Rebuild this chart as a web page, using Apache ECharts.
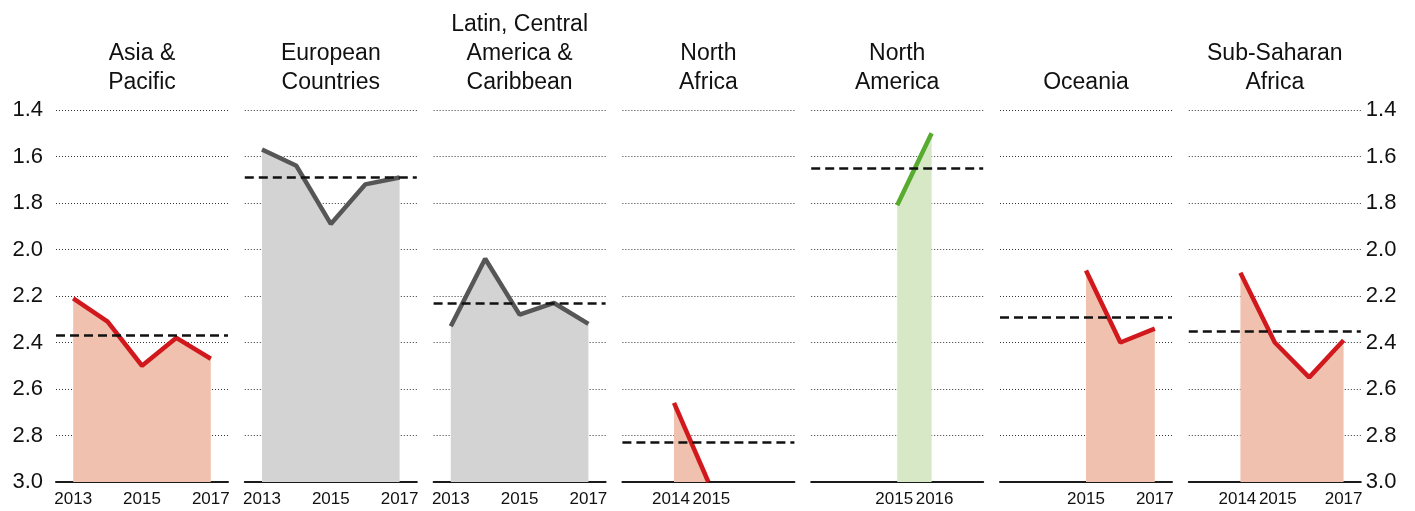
<!DOCTYPE html>
<html>
<head>
<meta charset="utf-8">
<script src="https://cdn.jsdelivr.net/npm/echarts@6/dist/echarts.min.js"></script>
<style>
  html, body { margin: 0; padding: 0; background: #fff; }
  #chart { width: 1415px; height: 511px; }
</style>
</head>
<body>
<div id="chart"></div>
<script>
// categories (years) shared by every panel
var years = ['2013', '2014', '2015', '2016', '2017'];

// panel titles
var regions = ['Asia &\nPacific', 'European\nCountries', 'Latin, Central\nAmerica &\nCaribbean',
  'North\nAfrica', 'North\nAmerica', 'Oceania', 'Sub-Saharan\nAfrica'];

// values per region (null = no data that year)
var asiaPacific   = [2.21, 2.31, 2.50, 2.38, 2.47];
var european      = [1.57, 1.64, 1.89, 1.72, 1.69];
var latinAmerica  = [2.33, 2.04, 2.28, 2.23, 2.32];
var northAfrica   = [null, 2.66, 3.00, null, null];
var northAmerica  = [null, null, 1.81, 1.50, null];
var oceania       = [null, null, 2.09, 2.40, 2.34];
var subSaharan    = [null, 2.10, 2.40, 2.55, 2.39];

// dashed average line per region
var averages = [2.37, 1.69, 2.23, 2.83, 1.65, 2.29, 2.35];

// colour group per region: r = red, g = grey, n = green
var groups = ['r', 'g', 'g', 'r', 'n', 'r', 'r'];

// x tick labels shown under each panel
var xLabels = [
  ['2013', '2015', '2017'],
  ['2013', '2015', '2017'],
  ['2013', '2015', '2017'],
  ['2014', '2015'],
  ['2015', '2016'],
  ['2015', '2017'],
  ['2014', '2015', '2017']
];

// y ticks
var yMin = 1.4, yMax = 3.0, yStep = 0.2;

var seriesData = [asiaPacific, european, latinAmerica, northAfrica, northAmerica, oceania, subSaharan];

var palette = {
  r: { line: '#d1181d', area: '#f0c1ae' },
  g: { line: '#565656', area: '#d3d3d3' },
  n: { line: '#57ab2f', area: '#d6e8c6' }
};

var font = '"Liberation Sans", Arial, sans-serif';
var panelLeft = 56, panelStep = 188.8, panelWidth = 172;
var gridTop = 110, gridBottom = 29;

var grids = [], xAxes = [], yAxes = [], series = [], titles = [];

for (let i = 0; i < regions.length; i++) {
  let left = panelLeft + i * panelStep;
  grids.push({ left: left, width: panelWidth, top: gridTop, bottom: gridBottom });

  titles.push({
    text: regions[i],
    left: left + panelWidth / 2,
    textAlign: 'center',
    bottom: 511 - 97,
    padding: 0,
    textStyle: { fontFamily: font, fontSize: 23, fontWeight: 'normal', color: '#111', lineHeight: 29 }
  });

  let shown = xLabels[i];
  xAxes.push({
    type: 'category',
    gridIndex: i,
    data: years,
    boundaryGap: true,
    axisLine: { onZero: false, lineStyle: { color: '#1a1a1a', width: 2 } },
    axisTick: { show: false },
    axisLabel: {
      interval: 0,
      hideOverlap: false,
      // nudge neighbouring labels apart so they don't touch
      formatter: function (val, idx) {
        if (shown.indexOf(val) < 0) return '';
        let prev = idx > 0 && shown.indexOf(years[idx - 1]) >= 0;
        let next = idx < years.length - 1 && shown.indexOf(years[idx + 1]) >= 0;
        if (prev) return '{r|' + val + '}';
        if (next) return '{l|' + val + '}';
        return val;
      },
      rich: {
        l: { fontFamily: font, fontSize: 17, color: '#111', padding: [0, 6, 0, 0] },
        r: { fontFamily: font, fontSize: 17, color: '#111', padding: [0, 0, 0, 6] }
      },
      fontFamily: font, fontSize: 17, color: '#111', margin: 9
    },
    splitLine: { show: false }
  });

  yAxes.push({
    type: 'value',
    gridIndex: i,
    inverse: true,
    min: yMin,
    max: yMax,
    interval: yStep,
    position: i === regions.length - 1 ? 'right' : 'left',
    axisLine: { show: false },
    axisTick: { show: false },
    axisLabel: {
      show: i === 0 || i === regions.length - 1,
      formatter: function (v) { return v.toFixed(1); },
      fontFamily: font, fontSize: 22, color: '#111',
      margin: i === 0 ? 13 : 5
    },
    splitLine: { show: true, lineStyle: { color: '#333', width: 1, type: [1, 2] } }
  });

  let c = palette[groups[i]];
  series.push({
    type: 'line',
    xAxisIndex: i,
    yAxisIndex: i,
    data: seriesData[i],
    symbol: 'none',
    lineStyle: { color: c.line, width: 4.5 },
    areaStyle: { color: c.area, opacity: 1, origin: 'end' },
    z: 3,
    markLine: {
      silent: true,
      symbol: 'none',
      label: { show: false },
      lineStyle: { color: '#111', width: 2.5, type: [9, 5] },
      data: [{ yAxis: averages[i] }],
      z: 5
    }
  });
}

var myChart = echarts.init(document.getElementById('chart'));
myChart.setOption({
  backgroundColor: '#fff',
  animation: false,
  title: titles,
  grid: grids,
  xAxis: xAxes,
  yAxis: yAxes,
  series: series
});
</script>
</body>
</html>
